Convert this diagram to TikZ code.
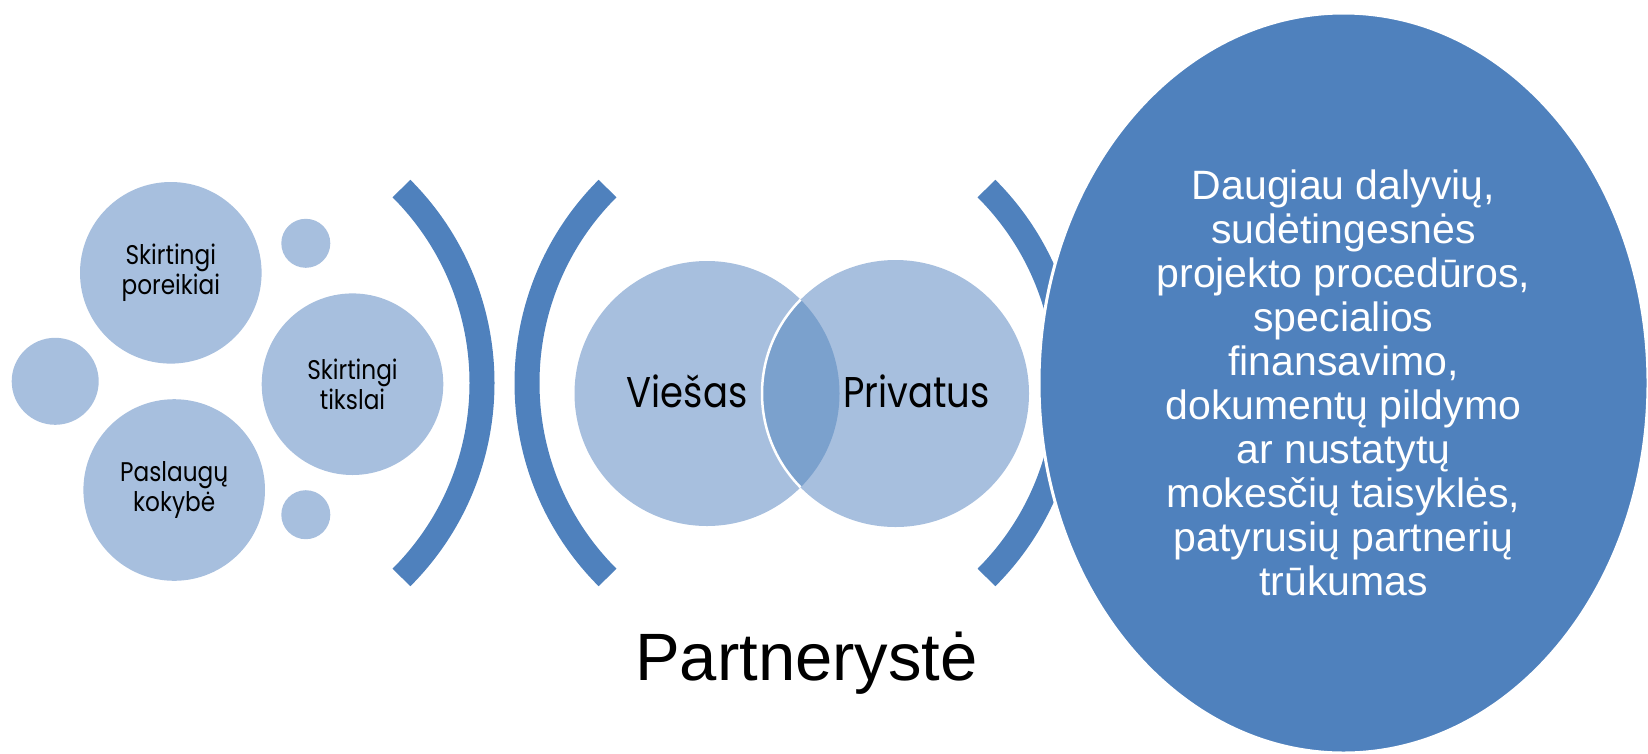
\documentclass[tikz,border=0pt]{standalone}
\usepackage{fontspec}
\setmainfont{Liberation Sans}
\newfontfamily\twfont[FakeStretch=0.86]{Poppins}
\usetikzlibrary{shapes.geometric}
\definecolor{dblue}{HTML}{4F81BD}
\definecolor{lblue}{HTML}{A7BFDE}
\definecolor{oblue}{HTML}{7BA1CD}
\begin{document}
\begin{tikzpicture}[x=1pt,y=-1pt,
  bubble/.style={circle, fill=lblue, draw=none, inner sep=0pt},
  arcband/.style={draw=dblue, line width=25pt, line cap=butt},
  smalltext/.style={font=\twfont\fontsize{27}{29.5}\selectfont, align=center, text=black},
  venntext/.style={font=\twfont\fontsize{43}{48}\selectfont, text=black, inner sep=0pt},
  bigtext/.style={font=\fontsize{41}{44}\selectfont, align=center, text=white}]
\useasboundingbox (0,0) rectangle (1648,753);
\clip (0,0) rectangle (1648,753);
% arcs
\draw[arcband] (207,383) ++(45:275) arc[start angle=45, end angle=-45, radius=275];
\draw[arcband] (802,383) ++(135:275) arc[start angle=135, end angle=225, radius=275];
\draw[arcband] (792,383) ++(45:275) arc[start angle=45, end angle=-45, radius=275];
% left group
\node[bubble, minimum size=181.6pt, smalltext] (pore) at (170.8,272.8) {Skirtingi\\poreikiai};
\node[bubble, minimum size=181.6pt, smalltext] (tiks) at (352.5,384.2) {Skirtingi\\tikslai};
\node[bubble, minimum size=181.6pt, smalltext] (kok) at (174.2,490) {Paslaugų\\kokybė};
\node[bubble, minimum size=49pt] (s1) at (305.8,243.3) {};
\node[bubble, minimum size=87pt] (s2) at (55.2,381.3) {};
\node[bubble, minimum size=49pt] (s3) at (305.8,514.7) {};
% venn
\node[bubble, minimum size=265pt] (vl) at (707,393.5) {};
\node[bubble, minimum size=267pt] (vr) at (895.5,393.5) {};
\begin{scope}
  \clip (707,393.5) circle[radius=132.5];
  \fill[oblue] (895.5,393.5) circle[radius=133.5];
  \draw[white, line width=2.5pt] (895.5,393.5) circle[radius=133.5];
\end{scope}
\node[venntext, anchor=base] (viesas) at (687,407) {Viešas};
\node[venntext, anchor=base] (priv) at (916.5,407) {Privatus};
% big ellipse
\node[ellipse, fill=dblue, draw=white, line width=3pt, minimum width=609pt, minimum height=740pt, inner sep=0pt, bigtext] (big) at (1343.5,383)
{Daugiau dalyvių,\\sudėtingesnės\\projekto procedūros,\\specialios\\finansavimo,\\dokumentų pildymo\\ar nustatytų\\mokesčių taisyklės,\\patyrusių partnerių\\trūkumas};
\node[anchor=base, font=\fontsize{67}{80}\selectfont, inner sep=0pt] (title) at (806.5,680) {Partnerystė};
\end{tikzpicture}
\end{document}
